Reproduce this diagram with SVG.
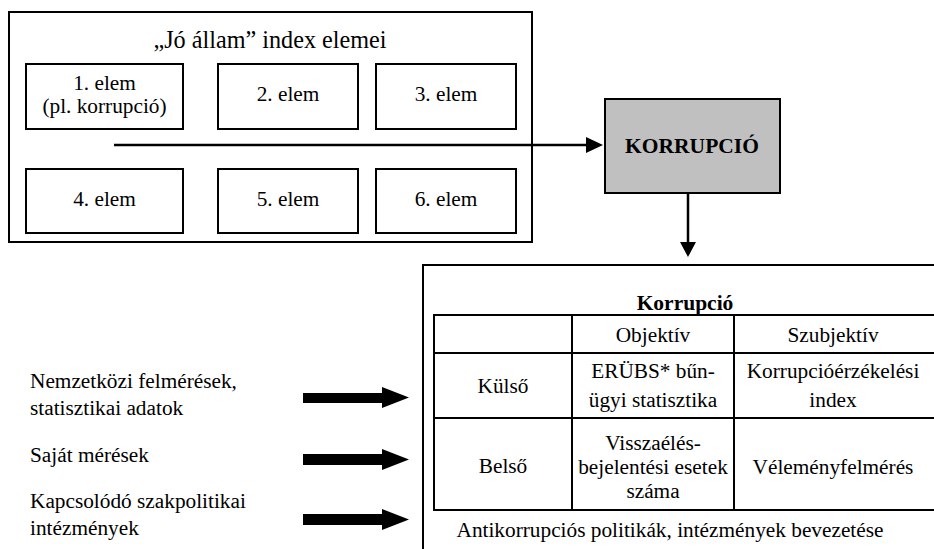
<svg xmlns="http://www.w3.org/2000/svg" width="934" height="549" viewBox="0 0 934 549">
<style>
text{font-family:'Liberation Serif',serif;font-size:21.3px;font-weight:normal;fill:#000;text-anchor:middle}
.l{text-anchor:start}
.b{font-weight:bold;font-size:21.5px}
.t{font-size:24.2px}
.box{fill:#fff;stroke:#000;stroke-width:2}
.ln{stroke:#000;stroke-width:2;fill:none}
</style>
<rect width="934" height="549" fill="#fff"/>
<g id="index-box">
<rect class="box" x="9" y="12" width="523" height="230"/>
<text class="t" x="270" y="48">„Jó állam” index elemei</text>
</g>
<g id="elem1"><rect class="box" x="26" y="64" width="157" height="65"/><text x="104.5" y="90">1. elem</text><text x="104.5" y="113">(pl. korrupció)</text></g>
<g id="elem2"><rect class="box" x="218" y="64" width="140" height="65"/><text x="288" y="101">2. elem</text></g>
<g id="elem3"><rect class="box" x="376" y="64" width="140" height="65"/><text x="446" y="101">3. elem</text></g>
<g id="elem4"><rect class="box" x="26" y="169" width="157" height="64"/><text x="104.5" y="206">4. elem</text></g>
<g id="elem5"><rect class="box" x="218" y="169" width="140" height="64"/><text x="288" y="206">5. elem</text></g>
<g id="elem6"><rect class="box" x="376" y="169" width="140" height="64"/><text x="446" y="206">6. elem</text></g>
<g id="korrupcio">
<rect x="605" y="99" width="175" height="94" fill="#c0c0c0" stroke="#000" stroke-width="2"/>
<text class="b" x="692" y="153">KORRUPCIÓ</text>
</g>
<g id="korrupcio-table">
<rect class="box" x="423" y="265" width="600" height="400"/>
<text class="b" x="685" y="310">Korrupció</text>
<rect class="ln" x="434" y="315" width="600" height="195"/>
<line class="ln" x1="434" y1="353" x2="940" y2="353"/>
<line class="ln" x1="434" y1="418" x2="940" y2="418"/>
<line class="ln" x1="572" y1="315" x2="572" y2="510"/>
<line class="ln" x1="734" y1="315" x2="734" y2="510"/>
<text x="653" y="342">Objektív</text>
<text x="833" y="342">Szubjektív</text>
<text x="503" y="393">Külső</text>
<text x="653" y="378">ERÜBS* bűn-</text>
<text x="653" y="407">ügyi statisztika</text>
<text x="833" y="378">Korrupcióérzékelési</text>
<text x="833" y="407">index</text>
<text x="503" y="473">Belső</text>
<text x="653" y="450">Visszaélés-</text>
<text x="653" y="474">bejelentési esetek</text>
<text x="653" y="498">száma</text>
<text x="833" y="474">Véleményfelmérés</text>
<text x="670" y="537">Antikorrupciós politikák, intézmények bevezetése</text>
</g>
<g id="sources">
<text class="l" x="30" y="388">Nemzetközi felmérések,</text>
<text class="l" x="30" y="415">statisztikai adatok</text>
<text class="l" x="30" y="462">Saját mérések</text>
<text class="l" x="30" y="508">Kapcsolódó szakpolitikai</text>
<text class="l" x="30" y="535">intézmények</text>
</g>
<g id="connectors">
<line x1="114" y1="145" x2="588" y2="145" stroke="#000" stroke-width="2.5"/>
<polygon points="586,137 603,145 586,153"/>
<line x1="688" y1="193" x2="688" y2="244" stroke="#000" stroke-width="2.5"/>
<polygon points="680,242 696,242 688,257"/>
<polygon points="303,393 382,393 382,387 409,397.5 382,408 382,403 303,403"/>
<polygon points="303,454 382,454 382,449 409,459.5 382,470 382,465 303,465"/>
<polygon points="303,514 382,514 382,509 409,519.5 382,530 382,525 303,525"/>
</g>
</svg>
